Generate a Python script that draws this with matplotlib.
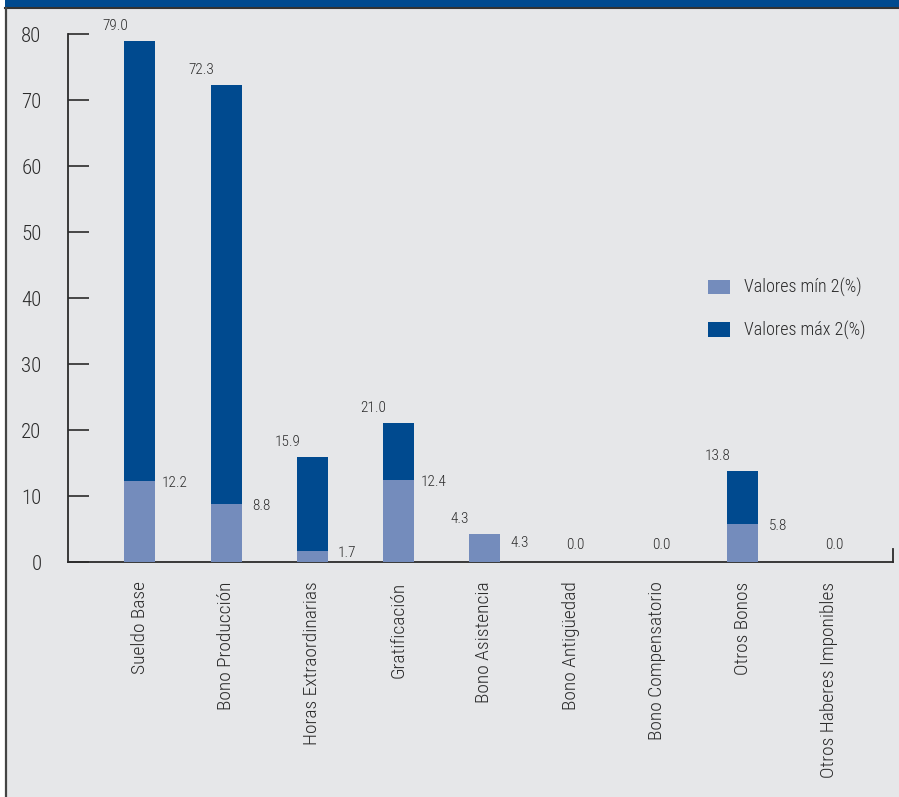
import matplotlib
matplotlib.use("Agg")
import matplotlib.pyplot as plt
from matplotlib.patches import Rectangle
from matplotlib.lines import Line2D
import numpy as np

categories = ["Sueldo Base", "Bono Producción", "Horas Extraordinarias", "Gratificación",
              "Bono Asistencia", "Bono Antigüedad", "Bono Compensatorio", "Otros Bonos",
              "Otros Haberes Imponibles"]
valores_min = [12.2, 8.8, 1.7, 12.4, 4.3, 0.0, 0.0, 5.8, 0.0]
valores_max = [79.0, 72.3, 15.9, 21.0, 4.3, 0.0, 0.0, 13.8, 0.0]
yticks = [0, 10, 20, 30, 40, 50, 60, 70, 80]

plt.rcParams['font.family'] = ['Roboto Condensed', 'Archivo Narrow', 'Sofia Sans Condensed',
                               'Roboto', 'DejaVu Sans']
plt.rcParams['font.weight'] = 'light'

W, H = 899, 797
fig = plt.figure(figsize=(W / 100, H / 100), dpi=100)
fig.patch.set_facecolor("white")

BG = "#e6e7e9"
DARK = "#004a8f"
LIGHT = "#748cbc"
INK = "#2b2b2b"

# panel background and frame
fig.patches.append(Rectangle((6 / W, 0), 1 - 6 / W, 1, transform=fig.transFigure,
                             facecolor=BG, edgecolor="none", zorder=-10))
fig.patches.append(Rectangle((5 / W, 1 - 8 / H), 1 - 5 / W, 8 / H, transform=fig.transFigure,
                             facecolor=DARK, edgecolor="none", zorder=-9))
fig.lines.append(Line2D([5 / W, 1], [1 - 8 / H, 1 - 8 / H], transform=fig.transFigure,
                        color="#333333", lw=1.5))
fig.lines.append(Line2D([6 / W, 6 / W], [0, 1 - 8 / H], transform=fig.transFigure,
                        color="#444444", lw=1.6))

ax = fig.add_axes([68 / W, 1 - 562 / H, (893 - 68) / W, (562 - 34) / H])
ax.set_facecolor("none")

x = np.arange(len(categories))
bw = 0.36
ax.bar(x, valores_max, width=bw, color=DARK, zorder=2, label="Valores máx 2(%)")
ax.bar(x, valores_min, width=bw, color=LIGHT, zorder=3, label="Valores mín 2(%)")

LBL = 11
for xi, vmin, vmax in zip(x, valores_min, valores_max):
    if vmax == 0 and vmin == 0:
        ax.annotate(f"{vmax:.1f}", (xi, 0), xytext=(5, 10), textcoords="offset pixels",
                    ha="center", va="bottom", fontsize=LBL, color=INK, annotation_clip=False)
        continue
    ax.annotate(f"{vmax:.1f}", (xi, vmax), xytext=(-25, 8), textcoords="offset pixels",
                ha="center", va="bottom", fontsize=LBL, color=INK, annotation_clip=False)
    dy = -9 if vmin == vmax else -2
    ax.annotate(f"{vmin:.1f}", (xi, vmin), xytext=(35, dy), textcoords="offset pixels",
                ha="center", va="center", fontsize=LBL, color=INK, annotation_clip=False)

ax.set_ylim(0, 80)
ax.set_xlim(-0.836, 8.745)
ax.set_yticks(yticks)
ax.set_yticklabels([str(t) for t in yticks], fontsize=15, color=INK)
ax.tick_params(axis="y", direction="in", length=15, width=1.2, color=INK, pad=19)
ax.set_xticks(x)
ax.set_xticklabels(categories, rotation=90, fontsize=14, color=INK)
ax.tick_params(axis="x", length=0, pad=14)

ax.spines["top"].set_visible(False)
for s in ["left", "bottom", "right"]:
    ax.spines[s].set_color(INK)
    ax.spines[s].set_linewidth(1.3)
ax.spines["right"].set_bounds(0, 2)

handles, labels = ax.get_legend_handles_labels()
leg = ax.legend(handles[::-1], labels[::-1], loc="upper left",
                bbox_to_anchor=((692 - 68) / (893 - 68), (562 - 262) / (562 - 34)),
                frameon=False, fontsize=13, handlelength=1.2, handleheight=0.85,
                labelspacing=1.3, handletextpad=0.8, labelcolor=INK)

fig.savefig("out.png", dpi=100, facecolor=fig.get_facecolor())
